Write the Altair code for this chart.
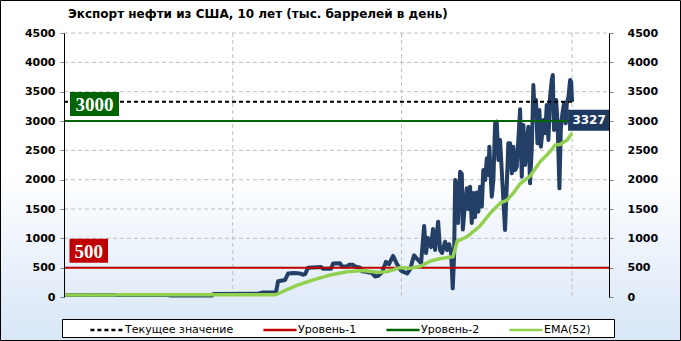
import altair as alt
import pandas as pd

# ---------------- data ----------------
TITLE = "Экспорт нефти из США, 10 лет (тыс. баррелей в день)"

export_dates = [
    "2010-08-06", "2011-08-11", "2012-06-25", "2012-07-15", "2013-04-12", "2013-04-25",
    "2014-02-14", "2014-03-12", "2014-06-13", "2014-06-27", "2014-08-12", "2014-09-01",
    "2014-10-10", "2014-11-20", "2014-12-09", "2014-12-23", "2015-01-12", "2015-04-08",
    "2015-04-21", "2015-06-13", "2015-06-27", "2015-08-12", "2015-08-25", "2015-09-28",
    "2015-10-11", "2015-11-06", "2015-11-20", "2015-12-23", "2016-01-05", "2016-01-31",
    "2016-03-11", "2016-03-31", "2016-04-20", "2016-05-17", "2016-06-12", "2016-07-02",
    "2016-07-29", "2016-08-24", "2016-09-20", "2016-10-30", "2016-11-19", "2016-12-15",
    "2017-01-04", "2017-01-31", "2017-02-20", "2017-03-05", "2017-03-18", "2017-04-07",
    "2017-04-20", "2017-05-04", "2017-05-24", "2017-06-06", "2017-06-19", "2017-07-09",
    "2017-07-22", "2017-08-05", "2017-08-18", "2017-08-29", "2017-09-07", "2017-09-14",
    "2017-09-25", "2017-10-03", "2017-10-17", "2017-10-28", "2017-11-04", "2017-11-19",
    "2017-11-30", "2017-12-11", "2017-12-22", "2018-01-02", "2018-01-13", "2018-01-24",
    "2018-02-04", "2018-02-15", "2018-02-26", "2018-03-10", "2018-03-20", "2018-04-01",
    "2018-04-12", "2018-04-22", "2018-04-29", "2018-05-08", "2018-05-15", "2018-05-26",
    "2018-06-06", "2018-06-17", "2018-06-28", "2018-07-09", "2018-07-20", "2018-07-31",
    "2018-08-11", "2018-08-23", "2018-09-02", "2018-09-14", "2018-09-25", "2018-10-05",
    "2018-10-17", "2018-10-28", "2018-11-19", "2018-11-30", "2018-12-11", "2018-12-22",
    "2019-01-02", "2019-01-13", "2019-01-24", "2019-02-05", "2019-02-15", "2019-02-22",
    "2019-03-05", "2019-03-14", "2019-03-27", "2019-04-06", "2019-04-23", "2019-05-04",
    "2019-05-15", "2019-05-26", "2019-06-06", "2019-06-17", "2019-06-24", "2019-07-02",
    "2019-07-16", "2019-07-25", "2019-08-07", "2019-08-16", "2019-08-27", "2019-09-07",
    "2019-09-18", "2019-09-25", "2019-10-06", "2019-10-17", "2019-10-24", "2019-10-30",
]
export_values = [
    35, 36, 35, 25, 25, 50,
    55, 75, 80, 270, 290, 400,
    410, 400, 380, 390, 500, 510,
    480, 480, 570, 575, 520, 520,
    550, 550, 520, 500, 440, 430,
    410, 350, 360, 420, 600, 560,
    700, 560, 450, 400, 470, 710,
    650, 580, 1210, 750, 1005, 850,
    1160, 800, 1284, 800, 750, 943,
    800, 900, 750, 148, 700, 1994,
    1900, 1261, 2136, 2100, 1150, 1600,
    1852, 1500, 1880, 1261, 1773, 1360,
    1780, 1454, 1880, 1540, 2165, 1994,
    2364, 2080, 2562, 2050, 1710, 2000,
    2960, 2990, 2335, 2676, 2165, 1653,
    1142, 1938, 2620, 2620, 2108, 2562,
    2165, 2222, 3200, 2051, 2930, 2250,
    2600, 2903, 1938, 2562, 3614, 3222,
    3358, 2620, 3188, 2562, 3017, 2790,
    3273, 2676, 3414, 3699, 3784, 2847,
    3358, 3017, 1852, 2847, 3131, 3301,
    2960, 3301, 3414, 3699, 3670, 3327,
]

ema_dates = [
    "2010-08-06", "2014-06-13", "2014-08-12", "2014-10-31", "2015-02-14", "2015-06-07",
    "2015-09-28", "2016-01-12", "2016-04-14", "2016-06-19", "2016-09-13", "2016-11-19",
    "2017-01-24", "2017-04-01", "2017-06-06", "2017-08-31", "2017-09-27", "2017-12-02",
    "2018-02-26", "2018-05-04", "2018-07-09", "2018-08-23", "2018-10-05", "2018-11-19",
    "2019-01-24", "2019-04-01", "2019-06-06", "2019-07-09", "2019-08-11", "2019-09-27",
    "2019-10-30",
]
ema_values = [
    35, 40, 110, 200, 290, 375,
    432, 450, 420, 432, 500, 490,
    520, 610, 653, 687, 950, 1028,
    1210, 1426, 1600, 1650, 1770, 1930,
    2060, 2306, 2477, 2591, 2600, 2676,
    2790,
]

current_value = 3327
level_1 = 500
level_2 = 3000
y_ticks = [0, 500, 1000, 1500, 2000, 2500, 3000, 3500, 4000, 4500]
x_tick_dates = ["2010-08-06", "2013-08-30", "2016-09-23", "2019-10-30"]
axis_start = "2010-08-06"
axis_end = "2020-07-01"
series_names = ["Текущее значение", "Уровень-1", "Уровень-2", "EMA(52)"]

# ---------------- style ----------------
W, H = 545, 264
FONT = "DejaVu Sans"
NAVY = "#243F66"
series_colors = ["#000000", "#C00000", "#006400", "#92D050"]
series_dash = [[4, 3], [1, 0], [1, 0], [1, 0]]
GRID = "#BFBFBF"


def dt(s):
    t = pd.Timestamp(s)
    return alt.DateTime(year=t.year, month=t.month, date=t.day, utc=True)


x_scale = alt.Scale(type="utc", domain=[dt(axis_start), dt(axis_end)])
y_scale = alt.Scale(domain=[y_ticks[0], y_ticks[-1]], nice=False, zero=True)

export_df = pd.DataFrame({"d": export_dates, "v": export_values})
ema_df = pd.DataFrame({"d": ema_dates, "v": ema_values, "s": series_names[3]})
last_date = export_dates[-1]
levels_df = pd.DataFrame({
    "s": [series_names[0]] * 2 + [series_names[1]] * 2 + [series_names[2]] * 2,
    "d": [axis_start, last_date, axis_start, axis_end, axis_start, axis_end],
    "v": [current_value] * 2 + [level_1] * 2 + [level_2] * 2,
})
hgrid_df = pd.DataFrame({"v": y_ticks[1:]})
vgrid_df = pd.DataFrame({"d": x_tick_dates[1:]})

axis_common = dict(
    title=None, grid=False, domainColor="black", domainWidth=1,
    labelFont=FONT, labelFontWeight="bold", labelFontSize=11, labelColor="black",
    zindex=1,
)
y_left_axis = alt.Axis(values=y_ticks, orient="left", format="d", tickColor="#808080",
                       tickSize=4, labelPadding=5, **axis_common)
y_right_axis = alt.Axis(values=y_ticks, orient="right", format="d", tickColor="#808080",
                        tickSize=4, labelPadding=14, labelAlign="left", **axis_common)
x_axis = alt.Axis(values=[dt(s) for s in x_tick_dates], format="%d.%m.%Y", ticks=False,
                  labelFlush=False, labelOverlap=False, labelPadding=7, **axis_common)

legend_def = alt.Legend(
    title=None, orient="none", legendX=25, legendY=279, direction="horizontal", columns=4,
    symbolType="stroke", symbolSize=1100, symbolStrokeWidth=2.5,
    labelFont=FONT, labelFontSize=11, labelColor="black", labelOffset=0,
    columnPadding=24, padding=0,
)
color_enc = alt.Color("s:N", scale=alt.Scale(domain=series_names, range=series_colors),
                      legend=legend_def)
dash_enc = alt.StrokeDash("s:N", scale=alt.Scale(domain=series_names, range=series_dash),
                          legend=legend_def)

X = lambda: alt.X("d:T", scale=x_scale, axis=None)
Y = lambda: alt.Y("v:Q", scale=y_scale, axis=None)

one = alt.Data(values=[{}])

bg_fill = alt.Gradient(
    gradient="linear", x1=0, x2=0, y1=0, y2=1,
    stops=[alt.GradientStop(color="#FFFFFF", offset=0),
           alt.GradientStop(color="#FFFFFF", offset=0.5),
           alt.GradientStop(color="#D8E6F7", offset=1)],
)
background = alt.Chart(one).mark_rect(fill=bg_fill, stroke="black", strokeWidth=1).encode(
    x=alt.value(-63.5), x2=alt.value(W + 71.5), y=alt.value(-32.5), y2=alt.value(H + 43.5)
)
legend_frame = alt.Chart(one).mark_rect(fill="white", stroke="black", strokeWidth=1).encode(
    x=alt.value(-1.5), x2=alt.value(550.5), y=alt.value(286.5), y2=alt.value(304.5)
)
title_df = pd.DataFrame({"t": [TITLE]})
title_text = alt.Chart(title_df).mark_text(
    font=FONT, fontSize=12, fontWeight="bold", color="black", align="left", baseline="middle"
).encode(x=alt.value(4), y=alt.value(-19), text="t:N")

hgrid = alt.Chart(hgrid_df).mark_rule(color=GRID, strokeDash=[4, 3], strokeWidth=1).encode(
    y=Y(), x=alt.value(0), x2=alt.value(W)
)
vgrid = alt.Chart(vgrid_df).mark_rule(color=GRID, strokeDash=[4, 3], strokeWidth=1).encode(
    x=X(), y=alt.value(0), y2=alt.value(H)
)

export_line = alt.Chart(export_df).mark_line(color=NAVY, strokeWidth=4, strokeJoin="round").encode(
    x=alt.X("d:T", scale=x_scale, axis=x_axis),
    y=alt.Y("v:Q", scale=y_scale, axis=y_left_axis),
)

levels = alt.Chart(levels_df).mark_line(strokeWidth=2, strokeCap="butt").encode(
    x=X(), y=alt.Y("v:Q", scale=y_scale, axis=y_right_axis),
    color=color_enc, strokeDash=dash_enc, detail="s:N",
)
ema = alt.Chart(ema_df).mark_line(strokeWidth=3.5, strokeJoin="round").encode(
    x=X(), y=Y(), color=color_enc, strokeDash=dash_enc,
)

lvl2_df = pd.DataFrame({"v": [level_2], "t": [str(level_2)]})
lvl1_df = pd.DataFrame({"v": [level_1], "t": [str(level_1)]})
cur_df = pd.DataFrame({"d": [last_date], "v": [current_value], "t": [str(current_value)]})

box2 = alt.Chart(lvl2_df).mark_rect(fill="#006400", yOffset=-5, y2Offset=-29).encode(
    x=alt.value(6), x2=alt.value(55), y=Y(), y2="v:Q"
)
txt2 = alt.Chart(lvl2_df).mark_text(font="Liberation Serif", fontWeight="bold", fontSize=19,
                                     color="white", align="center", baseline="middle", dy=-16).encode(
    x=alt.value(30.5), y=Y(), text="t:N"
)
box1 = alt.Chart(lvl1_df).mark_rect(fill="#C00000", yOffset=-5, y2Offset=-29).encode(
    x=alt.value(5.5), x2=alt.value(44), y=Y(), y2="v:Q"
)
txt1 = alt.Chart(lvl1_df).mark_text(font="Liberation Serif", fontWeight="bold", fontSize=19,
                                     color="white", align="center", baseline="middle", dy=-16).encode(
    x=alt.value(24.75), y=Y(), text="t:N"
)
box_cur = alt.Chart(cur_df).mark_rect(fill="#1F3A60", xOffset=-4, yOffset=8, y2Offset=29).encode(
    x=X(), x2=alt.value(W + 1), y=Y(), y2="v:Q"
)
txt_cur = alt.Chart(cur_df).mark_text(font=FONT, fontWeight="bold", fontSize=12, color="white",
                                       align="center", baseline="middle", dx=17, dy=18.5).encode(
    x=X(), y=Y(), text="t:N"
)

chart = alt.layer(
    background, legend_frame, title_text, hgrid, vgrid, export_line, levels, ema,
    box2, txt2, box1, txt1, box_cur, txt_cur,
).resolve_axis(y="independent").properties(
    width=W, height=H,
    autosize=alt.AutoSizeParams(type="none"),
    padding={"left": 64, "top": 33, "right": 72, "bottom": 44},
).configure_view(stroke=None).configure(background="white")

chart.save("out.html", embed_options={"renderer": "svg", "actions": False})
